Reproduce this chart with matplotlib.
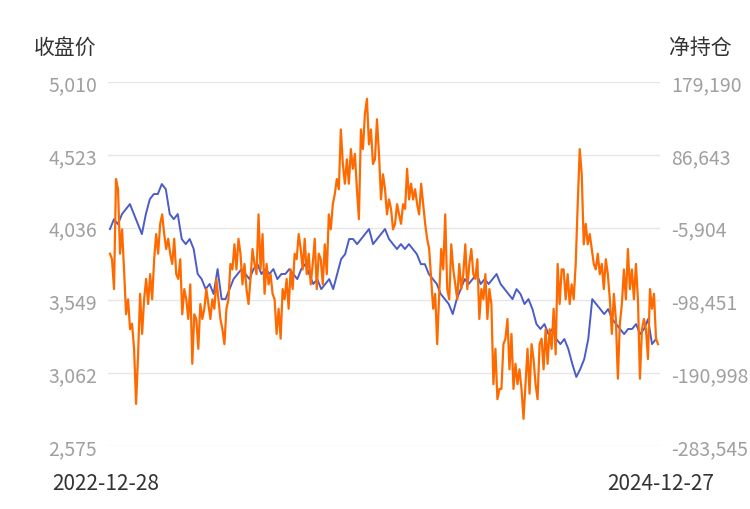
import numpy as np
import matplotlib
matplotlib.use("Agg")
import matplotlib.pyplot as plt

plt.rcParams['font.family'] = ['Noto Sans CJK SC', 'DejaVu Sans']

start_label = "2022-12-28"
end_label = "2024-12-27"
left_ticks = [2575, 3062, 3549, 4036, 4523, 5010]
right_ticks = [-283.545, -190.998, -98.451, -5.904, 86.643, 179.190]
right_labels = ["-283,545", "-190,998", "-98,451", "-5,904", "86,643", "179,190"]

close_price = [4027,4093,4060,4127,4160,4194,4127,4060,3993,4127,4227,4261,4261,4328,4294,4127,4093,4127,3960,3926,
 3960,3893,3726,3692,3625,3659,3592,3759,3558,3558,3625,3692,3726,3759,3726,3692,3759,3792,3726,3759,
 3726,3759,3692,3726,3726,3759,3726,3692,3759,3792,3726,3659,3692,3625,3659,3692,3625,3726,3826,3859,
 3960,3960,3926,3960,3993,4027,3926,3960,3993,4027,3960,3926,3893,3926,3893,3926,3893,3859,3792,3792,
 3726,3692,3659,3592,3558,3525,3458,3558,3625,3692,3659,3692,3726,3659,3692,3659,3692,3726,3659,3625,
 3592,3558,3625,3592,3525,3558,3491,3391,3358,3391,3324,3358,3291,3257,3291,3224,3124,3037,3090,3157,
 3291,3558,3525,3491,3458,3491,3424,3391,3358,3324,3358,3358,3391,3324,3358,3424,3257,3291]

# net position, thousands of lots
net_position = [-39,-46,-84,56,43,-39,-8,-59,-116,-97,-135,-128,-160,-230,-167,-90,-141,-97,-71,-103,
 -65,-97,-46,-14,-39,-1,11,-14,-33,-20,-39,-52,-20,-65,-71,-46,-116,-84,-97,-122,
 -78,-179,-116,-122,-160,-103,-122,-109,-84,-103,-122,-97,-109,-71,-97,-122,-135,-154,-109,-97,
 -52,-59,-27,-59,-20,-39,-78,-52,-84,-103,-71,-33,-52,-65,11,-59,-14,-90,-52,-78,
 -65,-90,-97,-141,-109,-147,-84,-97,-71,-109,-59,-84,-39,-46,-14,-33,-59,-20,-65,-39,
 -78,-52,-20,-84,-39,-46,-78,-27,-65,11,-8,24,37,56,43,119,75,50,81,50,
 94,69,88,43,5,119,94,139,158,100,119,75,81,132,88,30,62,43,11,30,
 18,-8,-1,24,11,-1,24,18,69,30,50,30,43,24,11,50,24,-1,-20,-33,
 -71,-109,-90,-154,-90,-33,-59,11,-84,-97,-27,-59,-78,-97,-52,-84,-65,-27,-84,-52,
 -33,-65,-71,-46,-122,-84,-97,-65,-122,-84,-103,-205,-160,-224,-211,-211,-154,-147,-122,-186,
 -141,-211,-179,-205,-186,-211,-249,-205,-160,-217,-154,-173,-205,-224,-154,-147,-186,-135,-179,-135,
 -160,-109,-167,-52,-103,-59,-59,-97,-65,-103,-78,-97,-52,24,94,62,-27,-1,-27,-14,
 -33,-52,-59,-39,-65,-52,-84,-46,-65,-97,-141,-90,-122,-198,-128,-103,-59,-97,-33,-84,
 -59,-97,-52,-97,-198,-135,-122,-135,-173,-84,-109,-90,-147,-154]

fig = plt.figure(figsize=(7.5, 5.1), dpi=100)
ax = fig.add_axes([0.144, 0.1235, 0.736, 0.7135])
ax2 = ax.twinx()

xb = np.linspace(0, 548, len(close_price))
xo = np.linspace(0, 550, len(net_position))
ax.plot(xb, close_price, color="#4a5cc8", lw=1.4)
ax2.plot(xo, net_position, color="#ff6a00", lw=1.6)

ax.set_xlim(-2, 552)
ax.set_ylim(2575, 5010)
ax2.set_ylim(-283.545, 179.19)
ax.set_yticks(left_ticks)
ax.set_yticklabels([f"{v:,}" for v in left_ticks])
ax2.set_yticks(right_ticks)
ax2.set_yticklabels(right_labels)
ax.set_xticks([])
ax.grid(axis='y', color="#e6e6e6", lw=1)
for a in (ax, ax2):
    for s in a.spines.values():
        s.set_visible(False)
    a.tick_params(length=0, labelsize=14, colors="#a0a0a0", pad=8)

fig.text(0.045, 0.895, "收盘价", fontsize=15, color="#333333")
fig.text(0.975, 0.895, "净持仓", fontsize=15, color="#333333", ha='right')
fig.text(0.069, 0.04, start_label, fontsize=15, color="#333333")
fig.text(0.952, 0.04, end_label, fontsize=15, color="#333333", ha='right')

fig.savefig("out.png", dpi=100)
